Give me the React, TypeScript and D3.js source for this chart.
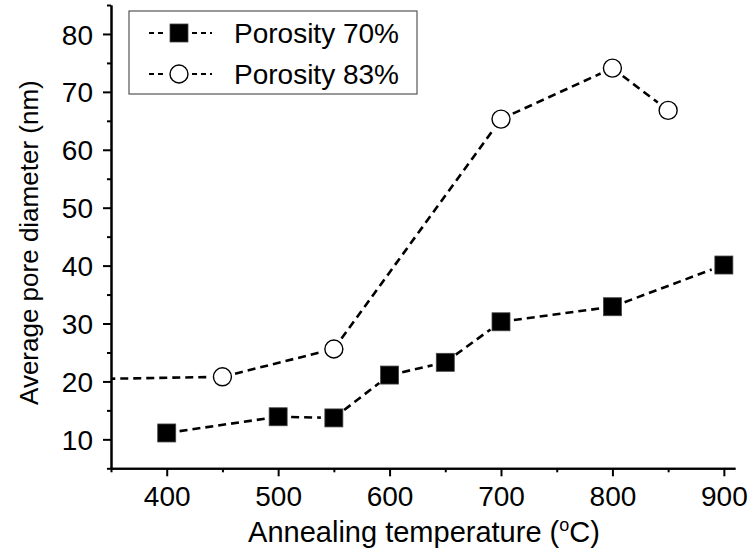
import React, { useEffect, useRef } from 'react';
import * as d3 from 'd3';

// Porosity 70% (filled squares)
const temps70 = [400, 500, 550, 600, 650, 700, 800, 900];
const diam70 = [11.1, 13.9, 13.7, 21.1, 23.3, 30.3, 32.9, 40.1];
// Porosity 83% (open circles), first point lies left of the visible axis
const temps83 = [300, 450, 550, 700, 800, 850];
const diam83 = [20.3, 20.8, 25.6, 65.3, 74.1, 66.8];

const seriesNames = ['Porosity 70%', 'Porosity 83%'];
const xTicks = [400, 500, 600, 700, 800, 900];
const xMinor = [350, 450, 550, 650, 750, 850];
const yTicks = [10, 20, 30, 40, 50, 60, 70, 80];
const yMinor = [5, 15, 25, 35, 45, 55, 65, 75, 85];

const FONT = '"Liberation Sans", Arial, sans-serif';

export default function App() {
  const ref = useRef<SVGSVGElement>(null);

  const W = 749, H = 551;
  const left = 111, right = 735, top = 5, bottom = 468.3;

  useEffect(() => {
    const svg = d3.select(ref.current);
    svg.selectAll('*').remove();

    const x = d3.scaleLinear().domain([350, 910]).range([left, right]);
    const y = d3.scaleLinear().domain([5, 85]).range([bottom, top]);

    svg.append('defs').append('clipPath').attr('id', 'plotclip')
      .append('rect')
      .attr('x', left).attr('y', top)
      .attr('width', right - left).attr('height', bottom - top);

    const g = svg.append('g').attr('clip-path', 'url(#plotclip)');

    // dashed connecting lines, stopping short of the markers
    const drawSeries = (xs: number[], ys: number[], cls: string) => {
      const pts = xs.map((v, i) => [x(v), y(ys[i])]);
      const gap = 13;
      for (let i = 0; i < pts.length - 1; i++) {
        const [x1, y1] = pts[i];
        const [x2, y2] = pts[i + 1];
        const len = Math.hypot(x2 - x1, y2 - y1);
        const ux = (x2 - x1) / len, uy = (y2 - y1) / len;
        g.append('line')
          .attr('class', cls)
          .attr('x1', x1 + ux * gap).attr('y1', y1 + uy * gap)
          .attr('x2', x2 - ux * gap).attr('y2', y2 - uy * gap)
          .attr('stroke', '#000')
          .attr('stroke-width', 2.6)
          .attr('stroke-dasharray', '8,5');
      }
    };
    drawSeries(temps83, diam83, 'l83');
    drawSeries(temps70, diam70, 'l70');

    g.selectAll('circle.m83')
      .data(temps83)
      .join('circle')
      .attr('class', 'm83')
      .attr('cx', d => x(d))
      .attr('cy', (d, i) => y(diam83[i]))
      .attr('r', 9)
      .attr('fill', '#fff')
      .attr('stroke', '#000')
      .attr('stroke-width', 1.4);

    g.selectAll('rect.m70')
      .data(temps70)
      .join('rect')
      .attr('class', 'm70')
      .attr('x', d => x(d) - 9)
      .attr('y', (d, i) => y(diam70[i]) - 9)
      .attr('width', 18)
      .attr('height', 18)
      .attr('fill', '#000')
      .attr('stroke', '#444')
      .attr('stroke-width', 0.8);

    // axes
    const xAxis = svg.append('g').attr('transform', `translate(0,${bottom})`)
      .call(d3.axisBottom(x).tickValues(xTicks).tickSize(8).tickSizeOuter(0).tickPadding(10)
        .tickFormat(d3.format('d')));
    svg.append('g').attr('transform', `translate(0,${bottom})`)
      .call(d3.axisBottom(x).tickValues(xMinor).tickSize(4).tickSizeOuter(0).tickFormat(() => ''));

    const yAxis = svg.append('g').attr('transform', `translate(${left},0)`)
      .call(d3.axisLeft(y).tickValues(yTicks).tickSize(8).tickSizeOuter(0).tickPadding(10)
        .tickFormat(d3.format('d')));
    svg.append('g').attr('transform', `translate(${left},0)`)
      .call(d3.axisLeft(y).tickValues(yMinor).tickSize(4).tickSizeOuter(0).tickFormat(() => ''));

    svg.selectAll('.domain').attr('stroke', '#000').attr('stroke-width', 2);
    svg.selectAll('.tick line').attr('stroke', '#000').attr('stroke-width', 2);
    svg.selectAll('.tick text')
      .attr('fill', '#000')
      .style('font-family', FONT)
      .style('font-size', '28px');
    yAxis.selectAll('.tick text').attr('dy', '0.36em');
    xAxis.selectAll('.tick text').attr('dy', '0.72em');

    // axis titles
    const xt = svg.append('text')
      .attr('x', (left + right) / 2 + 1)
      .attr('y', 542)
      .attr('text-anchor', 'middle')
      .style('font-family', FONT)
      .style('font-size', '29px')
      .attr('fill', '#000');
    xt.append('tspan').text('Annealing temperature (');
    xt.append('tspan').attr('dy', -11).style('font-size', '18px').text('o');
    xt.append('tspan').attr('dy', 11).text('C)');

    svg.append('text')
      .attr('transform', `translate(38,${(top + bottom) / 2 + 6}) rotate(-90)`)
      .attr('text-anchor', 'middle')
      .style('font-family', FONT)
      .style('font-size', '26px')
      .attr('fill', '#000')
      .text('Average pore diameter (nm)');

    // legend
    const lg = svg.append('g');
    lg.append('rect')
      .attr('x', 129).attr('y', 11)
      .attr('width', 288).attr('height', 83)
      .attr('fill', '#fff')
      .attr('stroke', '#555')
      .attr('stroke-width', 1.2);

    seriesNames.forEach((name, i) => {
      const cy = 33 + i * 41;
      const cx = 179;
      [[149, cx - 13], [cx + 13, 212]].forEach(([a, b]) => {
        lg.append('line')
          .attr('x1', a).attr('x2', b).attr('y1', cy).attr('y2', cy)
          .attr('stroke', '#000').attr('stroke-width', 1.8)
          .attr('stroke-dasharray', '5,4');
      });
      if (i === 0) {
        lg.append('rect').attr('x', cx - 9).attr('y', cy - 9)
          .attr('width', 18).attr('height', 18).attr('fill', '#000')
          .attr('stroke', '#444').attr('stroke-width', 0.8);
      } else {
        lg.append('circle').attr('cx', cx).attr('cy', cy).attr('r', 9)
          .attr('fill', '#fff').attr('stroke', '#000').attr('stroke-width', 1.4);
      }
      lg.append('text')
        .attr('x', 234).attr('y', cy + 10)
        .style('font-family', FONT)
        .style('font-size', '28px')
        .attr('fill', '#000')
        .text(name);
    });
  }, []);

  return (
    <svg ref={ref} width={W} height={H}
      style={{ position: 'absolute', left: 0, top: 0, background: '#fff' }} />
  );
}
